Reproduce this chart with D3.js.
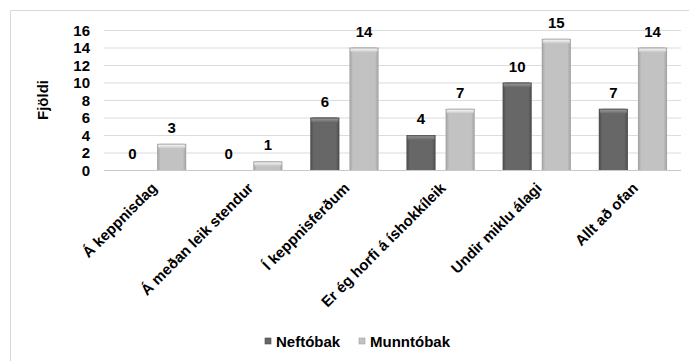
<!DOCTYPE html>
<html>
<head>
<meta charset="utf-8">
<script src="https://cdn.jsdelivr.net/npm/d3@7"></script>
<style>
  html, body { margin: 0; padding: 0; background: #fff; }
  svg { display: block; font-family: "Liberation Sans", Arial, sans-serif; }
</style>
</head>
<body>
<svg id="chart" width="689" height="361"></svg>
<script>
// Categories and the two series (counts)
const categories = ["Á keppnisdag", "Á meðan leik stendur", "Í keppnisferðum",
                    "Er ég horfi á íshokkíleik", "Undir miklu álagi", "Allt að ofan"];
const seriesNames = ["Neftóbak", "Munntóbak"];
const neftobak = [0, 0, 6, 4, 10, 7];
const munntobak = [3, 1, 14, 7, 15, 14];
const yTicks = [0, 2, 4, 6, 8, 10, 12, 14, 16];
const yTitle = "Fjöldi";

const seriesValues = [neftobak, munntobak];
const palette = {
  "Neftóbak": { edge: "#4a4a4a", mid: "#676767", cap: "#8e8e8e" },
  "Munntóbak": { edge: "#a0a0a0", mid: "#c2c2c2", cap: "#ececec" }
};
const FS = 15;

const svg = d3.select("#chart");
const margin = { left: 104, right: 8, top: 30, bottom: 191 };
const W = 689, H = 361;

// Outer chart frame (left and top edges visible)
svg.append("path")
  .attr("d", `M10.5,${H} V10.5 H${W}`)
  .attr("fill", "none")
  .attr("stroke", "#d9d9d9")
  .attr("stroke-width", 1);

const x0 = d3.scaleBand()
  .domain(categories)
  .range([margin.left, W - margin.right])
  .paddingInner(0.29)
  .paddingOuter(0.145);

const x1 = d3.scaleBand()
  .domain(seriesNames)
  .range([0, x0.bandwidth()])
  .paddingInner(0.256)
  .paddingOuter(0);

const y = d3.scaleLinear()
  .domain([0, 16])
  .range([H - margin.bottom, margin.top]);

// Gradients giving the bars a bevelled look
const defs = svg.append("defs");
seriesNames.forEach((s, i) => {
  const c = palette[s];
  const g = defs.append("linearGradient").attr("id", "body" + i)
    .attr("x1", 0).attr("x2", 1).attr("y1", 0).attr("y2", 0);
  g.append("stop").attr("offset", "0%").attr("stop-color", c.edge);
  g.append("stop").attr("offset", "12%").attr("stop-color", c.mid);
  g.append("stop").attr("offset", "88%").attr("stop-color", c.mid);
  g.append("stop").attr("offset", "100%").attr("stop-color", c.edge);
  const t = defs.append("linearGradient").attr("id", "cap" + i)
    .attr("x1", 0).attr("x2", 0).attr("y1", 0).attr("y2", 1);
  t.append("stop").attr("offset", "0%").attr("stop-color", c.edge);
  t.append("stop").attr("offset", "35%").attr("stop-color", c.cap);
  t.append("stop").attr("offset", "100%").attr("stop-color", c.mid);
});

// Horizontal gridlines and value axis labels
const yAxis = d3.axisLeft(y).tickValues(yTicks).tickSize(0).tickPadding(0);
const gy = svg.append("g").attr("transform", `translate(${margin.left},0)`).call(yAxis);
gy.select(".domain").remove();
gy.selectAll(".tick text")
  .attr("x", -14)
  .attr("dy", "0.35em")
  .attr("font-size", FS)
  .attr("font-weight", "bold")
  .attr("fill", "#000")
  .attr("font-family", "Liberation Sans, Arial, sans-serif");
gy.selectAll(".tick").append("line")
  .attr("x1", 0).attr("x2", W - margin.right - margin.left)
  .attr("stroke", d => d === 0 ? "#c8c8c8" : "#dcdcdc")
  .attr("stroke-width", 1.2);

// Y axis title
svg.append("text")
  .attr("transform", `translate(48,${(y(0) + y(16)) / 2}) rotate(-90)`)
  .attr("text-anchor", "middle")
  .attr("font-size", FS)
  .attr("font-weight", "bold")
  .text(yTitle);

// Bars
const groups = svg.append("g").selectAll("g")
  .data(categories)
  .join("g")
  .attr("transform", d => `translate(${x0(d)},0)`);

groups.each(function(cat, ci) {
  const g = d3.select(this);
  seriesNames.forEach((s, si) => {
    const v = seriesValues[si][ci];
    const bx = x1(s), bw = x1.bandwidth();
    const top = y(v), h = y(0) - y(v);
    if (h > 0) {
      g.append("rect")
        .attr("x", bx).attr("y", top)
        .attr("width", bw).attr("height", h)
        .attr("fill", `url(#body${si})`);
      g.append("rect")
        .attr("x", bx + 1).attr("y", top)
        .attr("width", bw - 2).attr("height", Math.min(5, h))
        .attr("rx", 2)
        .attr("fill", `url(#cap${si})`);
    }
    g.append("text")
      .attr("x", bx + bw / 2)
      .attr("y", top - 11)
      .attr("text-anchor", "middle")
      .attr("font-size", FS)
      .attr("font-weight", "bold")
      .text(v);
  });
});

// Category labels, rotated
svg.append("g").selectAll("text")
  .data(categories)
  .join("text")
  .attr("transform", d => `translate(${x0(d) + x0.bandwidth() / 2 + 6},${y(0) + 19}) rotate(-45)`)
  .attr("text-anchor", "end")
  .attr("font-size", FS)
  .attr("font-weight", "bold")
  .text(d => d);

// Legend
const legend = svg.append("g").attr("transform", "translate(265,338)");
const legendOffsets = [0, 94];
seriesNames.forEach((s, i) => {
  const lg = legend.append("g").attr("transform", `translate(${legendOffsets[i]},0)`);
  lg.append("rect").attr("width", 6).attr("height", 6).attr("fill", palette[s].mid)
    .attr("stroke", palette[s].edge).attr("stroke-width", 0.6);
  lg.append("text").attr("x", 11).attr("y", 8.5)
    .attr("font-size", FS).attr("font-weight", "bold").text(s);
});
</script>
</body>
</html>
